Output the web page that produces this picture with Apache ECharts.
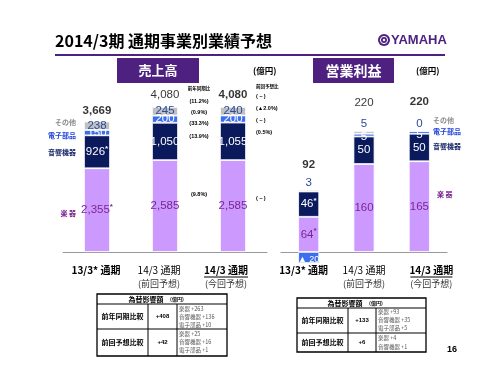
<!DOCTYPE html>
<html>
<head>
<meta charset="utf-8">
<script src="https://cdn.jsdelivr.net/npm/echarts@6/dist/echarts.min.js"></script>
<style>
  html, body { margin: 0; padding: 0; background: #fff; }
  #main { width: 500px; height: 375px; }
</style>
</head>
<body>
<div id="main"></div>
<script>
// 区分
var categories = ['13/3* 通期', '14/3 通期', '14/3 通期'];
var subLabels = ['', '(前回予想)', '(今回予想)'];

// 売上高 (億円)
var salesInst  = [2355, 2585, 2585];   // 楽器
var salesAudio = [926, 1050, 1055];    // 音響機器
var salesElec  = [150, 200, 200];      // 電子部品
var salesOther = [238, 245, 240];      // その他
var salesTotal = [3669, 4080, 4080];

// 営業利益 (億円)
var opInst  = [64, 160, 165];
var opAudio = [46, 50, 50];
var opElec  = [-20, 5, 5];
var opOther = [3, 5, 0];
var opTotal = [92, 220, 220];

// 比率 (合計, その他, 電子部品, 音響機器, 楽器)
var yoyRatio  = ['(11.2%)', '(0.9%)', '(33.3%)', '(13.9%)', '(9.8%)'];
var prevRatio = ['(－)', '(▲2.0%)', '(－)', '(0.5%)', '(－)'];

// 為替影響額
var fxSales = [
  ['前年同期比較', '+408', ['楽器 +263', '音響機器 +136', '電子部品 +10']],
  ['前回予想比較', '+42', ['楽器 +25', '音響機器 +16', '電子部品 +1']]
];
var fxOp = [
  ['前年同期比較', '+133', ['楽器 +93', '音響機器 +35', '電子部品 +5']],
  ['前回予想比較', '+6', ['楽器 +4', '音響機器 +1']]
];

var JP = '"Noto Sans CJK JP", sans-serif';
var NUM = '"Liberation Sans", Arial, sans-serif';
var PURPLE = '#4e2180';
var C_INST = '#cc99ff', C_AUDIO = '#0b1a5c', C_ELEC = '#3a6df0', C_OTHER = '#c0c0c0';
var T_INST = '#7a2596', T_OTHER = '#2a4a9a';

function fmt(v) {
  if (v < 0) return '▲ ' + Math.abs(v);
  return v.toLocaleString('en-US');
}

function segLabel(color, star) {
  return {
    show: true,
    position: 'inside',
    formatter: function (p) {
      if (p.value < 0) return '{n|' + fmt(p.value) + '}';
      var t = '{v|' + fmt(p.value) + '}';
      return (star && p.dataIndex === 0) ? t + '{a|*}' : t;
    },
    rich: {
      v: { color: color, fontSize: 11.5, fontFamily: NUM },
      n: { color: color, fontSize: 9, fontFamily: NUM },
      a: { color: color, fontSize: 8, fontFamily: NUM, fontWeight: 'bold', verticalAlign: 'top', padding: [0, 0, 7, 0] }
    }
  };
}

function bar(name, data, grid, color, label, width) {
  return {
    name: name, type: 'bar', stack: 'g' + grid,
    xAxisIndex: grid, yAxisIndex: grid,
    barWidth: width, data: data, clip: false,
    itemStyle: { color: color, borderColor: '#fff', borderWidth: 0.8 },
    label: label, silent: true
  };
}

function sumPos(lists, i) {
  var s = 0;
  lists.forEach(function (l) { if (l[i] > 0) s += l[i]; });
  return s;
}

function totals(grid, lists, tot, dy) {
  return {
    type: 'scatter', xAxisIndex: grid, yAxisIndex: grid,
    symbolSize: 1, itemStyle: { color: 'rgba(0,0,0,0)' }, silent: true,
    label: { show: true, position: 'inside', color: '#000', fontSize: 11.5, fontFamily: NUM },
    data: tot.map(function (t, i) {
      return {
        value: sumPos(lists, i),
        label: { formatter: fmt(t), fontWeight: i === 1 ? 'normal' : 'bold', offset: [0, dy[i]] }
      };
    })
  };
}

function xAxis(grid, shifts) {
  var rich = {};
  shifts.forEach(function (s, i) {
    var pad = s < 0 ? [0, -2 * s, 0, 0] : [0, 0, 0, 2 * s];
    rich['m' + i] = { fontSize: 10, fontFamily: JP, fontWeight: i === 1 ? 'normal' : 'bold', color: '#000', padding: pad, lineHeight: 13 };
    rich['s' + i] = { fontSize: 9, fontFamily: JP, color: '#333', padding: pad, lineHeight: 13 };
  });
  return {
    type: 'category', gridIndex: grid, data: categories,
    axisLine: { lineStyle: { color: '#999', width: 1 } },
    axisTick: { inside: true, length: 4, lineStyle: { color: '#999' } },
    axisLabel: {
      margin: 12, interval: 0,
      formatter: function (v, i) {
        var s = '{m' + i + '|' + v + '}';
        if (subLabels[i]) s += '\n{s' + i + '|' + subLabels[i] + '}';
        return s;
      },
      rich: rich
    }
  };
}

function txt(x, y, s, size, color, opt) {
  opt = opt || {};
  return {
    type: 'text', x: x, y: y, silent: true,
    style: {
      text: s, fontSize: size, fill: color,
      fontFamily: opt.font || JP, fontWeight: opt.weight || 'normal',
      align: opt.align || 'left', verticalAlign: 'middle'
    }
  };
}

function line(x1, y1, x2, y2, w, color) {
  return { type: 'line', silent: true, shape: { x1: x1, y1: y1, x2: x2, y2: y2 }, style: { stroke: color || '#000', lineWidth: w || 1 } };
}

function fxTable(rows, x0, x1, c1, c2, y0, yh, yr, y1, hx, lineYs) {
  var g = [];
  g.push({ type: 'rect', silent: true, shape: { x: x0, y: y0, width: x1 - x0, height: y1 - y0 }, style: { fill: 'none', stroke: '#000', lineWidth: 1.3 } });
  g.push(line(x0, yh, x1, yh, 1));
  g.push(line(x0, yr, x1, yr, 1));
  g.push(line(c1, yh, c1, y1, 1));
  g.push(line(c2, yh, c2, y1, 1));
  g.push(txt(hx, (y0 + yh) / 2, '為替影響額', 7, '#000', { weight: 'bold', align: 'center' }));
  g.push(txt(hx + 24, (y0 + yh) / 2, '(億円)', 5, '#000', { weight: 'bold' }));
  var bands = [[yh, yr], [yr, y1]];
  rows.forEach(function (r, k) {
    var cy = (bands[k][0] + bands[k][1]) / 2;
    g.push(txt((x0 + c1) / 2, cy, r[0], 7, '#000', { weight: 'bold', align: 'center' }));
    g.push(txt((c1 + c2) / 2, cy, r[1], 6, '#000', { weight: 'bold', align: 'center', font: NUM }));
    r[2].forEach(function (s, j) {
      g.push(txt(c2 + 2, lineYs[k][j], s, 5.5, '#555'));
    });
  });
  return g;
}

var chart = echarts.init(document.getElementById('main'));

var option = {
  animation: false,
  grid: [
    { left: 63, width: 204, top: 92, height: 160 },
    { left: 281, width: 166, top: 109, height: 143 }
  ],
  xAxis: [xAxis(0, [-1, -6, -7]), xAxis(1, [-5, 0, 12])],
  yAxis: [
    { type: 'value', gridIndex: 0, min: 0, max: 4500, show: false },
    { type: 'value', gridIndex: 1, min: 0, max: 260, show: false }
  ],
  series: [
    bar('楽器', salesInst, 0, C_INST, segLabel(T_INST, true), 26),
    bar('音響機器', salesAudio, 0, C_AUDIO, segLabel('#fff', true), 26),
    bar('電子部品', salesElec, 0, C_ELEC, segLabel('#fff', false), 26),
    bar('その他', salesOther, 0, C_OTHER, segLabel(T_OTHER, false), 26),
    bar('楽器', opInst, 1, C_INST, segLabel(T_INST, true), 21),
    bar('音響機器', opAudio, 1, C_AUDIO, segLabel('#fff', true), 21),
    bar('電子部品', opElec, 1, C_ELEC, Object.assign(segLabel('#fff', false), { offset: [0, 2] }), 21),
    bar('その他', opOther, 1, C_OTHER, Object.assign(segLabel(T_OTHER, false), { position: 'top', distance: 1 }), 21),
    totals(0, [salesInst, salesAudio, salesElec, salesOther], salesTotal, [-11, -12, -12]),
    totals(1, [opInst, opAudio, opElec, opOther], opTotal, [-25, -28, -29])
  ]
};
chart.setOption(option);

// 今回予想の下線
var ux0 = chart.convertToPixel({ xAxisIndex: 0 }, 2) - 7;
var ux1 = chart.convertToPixel({ xAxisIndex: 1 }, 2) + 12;

var graphics = [
  txt(55, 41, '2014/3期 通期事業別業績予想', 16, '#000', { weight: 'bold' }),
  line(55, 55, 445, 55, 2.2, PURPLE),
  { type: 'circle', silent: true, shape: { cx: 384, cy: 40, r: 6 }, style: { fill: PURPLE } },
  { type: 'circle', silent: true, shape: { cx: 384, cy: 40, r: 3.6 }, style: { fill: 'none', stroke: '#fff', lineWidth: 1 } },
  { type: 'circle', silent: true, shape: { cx: 384, cy: 40, r: 1.2 }, style: { fill: '#fff' } },
  txt(391, 40, 'YAMAHA', 13, PURPLE, { weight: 'bold', font: NUM }),
  { type: 'rect', silent: true, shape: { x: 117, y: 58, width: 82, height: 25 }, style: { fill: PURPLE } },
  txt(158, 70.5, '売上高', 13, '#fff', { weight: 'bold', align: 'center' }),
  { type: 'rect', silent: true, shape: { x: 313, y: 58, width: 81, height: 25 }, style: { fill: PURPLE } },
  txt(353.5, 70.5, '営業利益', 14, '#fff', { weight: 'bold', align: 'center' }),
  txt(253, 71, '(億円)', 8.5, '#000', { weight: 'bold' }),
  txt(416, 71, '(億円)', 8.5, '#000', { weight: 'bold' }),
  txt(199, 88, '前年同期比', 4.5, '#000', { weight: 'bold', align: 'center' }),
  txt(256, 86, '前回予想比', 4.5, '#000', { weight: 'bold' }),
  // 左の区分名
  txt(76, 122, 'その他', 7, '#8c8c8c', { weight: 'bold', align: 'right' }),
  txt(76, 135, '電子部品', 7, '#2244dd', { weight: 'bold', align: 'right' }),
  txt(76, 152, '音響機器', 7, '#1a2a6a', { weight: 'bold', align: 'right' }),
  txt(76, 213, '楽 器', 7, '#7a1f8f', { weight: 'bold', align: 'right' }),
  // 右の区分名
  txt(433, 120, 'その他', 7, '#8c8c8c', { weight: 'bold' }),
  txt(433, 131, '電子部品', 7, '#2244dd', { weight: 'bold' }),
  txt(433, 146, '音響機器', 7, '#1a2a6a', { weight: 'bold' }),
  txt(437, 194, '楽 器', 7, '#7a1f8f', { weight: 'bold' }),
  line(ux0 - 22, 277, ux0 + 22, 277, 1, '#000'),
  line(ux1 - 21, 277, ux1 + 21, 277, 1, '#000'),
  txt(452, 350, '16', 9, '#000', { weight: 'bold', align: 'center', font: NUM })
];

var yoyY = [101, 112, 123, 136, 194];
var prevY = [96, 108, 120, 132, 198];
yoyRatio.forEach(function (s, i) {
  graphics.push(txt(199, yoyY[i], s, 5.5, '#000', { weight: 'bold', align: 'center', font: NUM }));
});
prevRatio.forEach(function (s, i) {
  graphics.push(txt(256, prevY[i], s, 5.5, '#000', { weight: 'bold', font: NUM }));
});

graphics = graphics.concat(
  fxTable(fxSales, 97, 227, 148, 177, 294, 304, 329, 356, 146, [[309, 317, 325], [334, 342, 350]]),
  fxTable(fxOp, 297, 426, 348, 376, 298, 308, 333, 352, 345, [[312, 320, 328], [338, 347]])
);

chart.setOption({ graphic: graphics });
</script>
</body>
</html>
